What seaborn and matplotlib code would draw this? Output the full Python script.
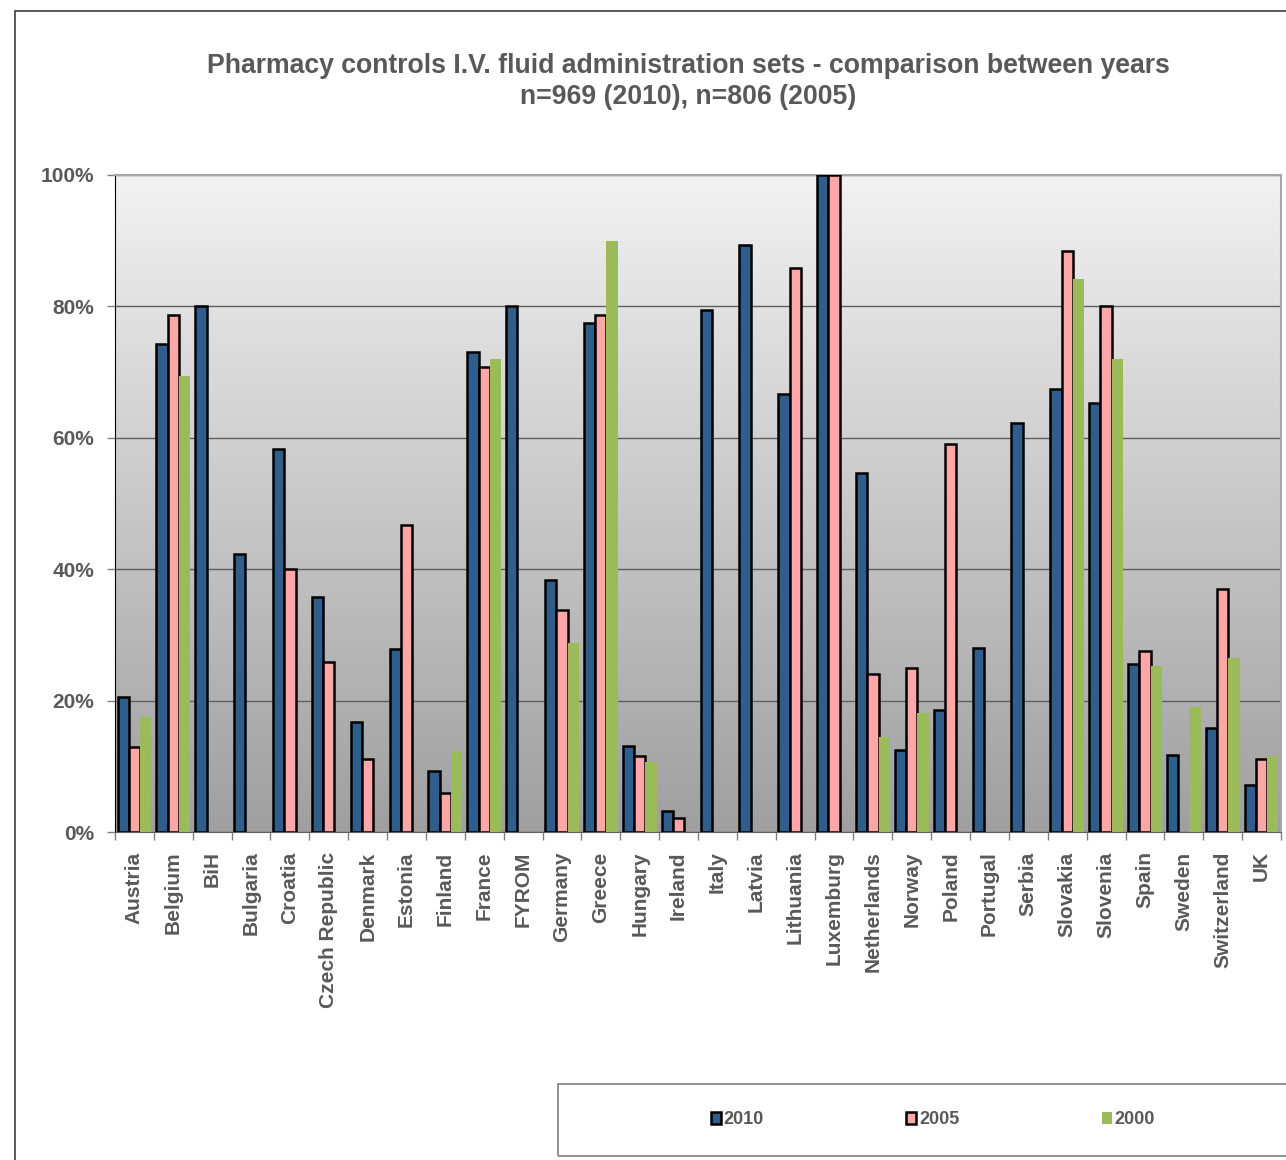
import numpy as np
import pandas as pd
import matplotlib
matplotlib.use('Agg')
import matplotlib.pyplot as plt
from matplotlib.colors import LinearSegmentedColormap
from matplotlib.patches import Patch, Rectangle
import seaborn as sns

# Data (percent, None = no bar)
countries = ['Austria', 'Belgium', 'BiH', 'Bulgaria', 'Croatia', 'Czech Republic',
             'Denmark', 'Estonia', 'Finland', 'France', 'FYROM', 'Germany', 'Greece',
             'Hungary', 'Ireland', 'Italy', 'Latvia', 'Lithuania', 'Luxemburg',
             'Netherlands', 'Norway', 'Poland', 'Portugal', 'Serbia', 'Slovakia',
             'Slovenia', 'Spain', 'Sweden', 'Switzerland', 'UK']
v2010 = [20.6, 74.3, 80.0, 42.3, 58.3, 35.7, 16.7, 27.8, 9.3, 73.1, 80.0, 38.4, 77.5,
         13.1, 3.2, 79.4, 89.3, 66.7, 100.0, 54.6, 12.5, 18.6, 28.0, 62.2, 67.4,
         65.3, 25.5, 11.7, 15.8, 7.2]
v2005 = [12.9, 78.7, None, None, 40.0, 25.8, 11.1, 46.8, 5.9, 70.8, None, 33.8, 78.7,
         11.5, 2.2, None, None, 85.8, 100.0, 24.0, 25.0, 59.1, None, None, 88.5,
         80.1, 27.5, None, 37.0, 11.1]
v2000 = [17.5, 69.4, None, None, None, None, None, None, 12.4, 72.0, None, 28.7, 90.0,
         10.6, None, None, None, None, None, 14.5, 18.1, None, None, None, 84.2,
         72.0, 25.3, 19.0, 26.5, 11.6]
years = ['2010', '2005', '2000']
colors = ['#2F5D8C', '#FFA6A6', '#9BBB59']

title1 = 'Pharmacy controls I.V. fluid administration sets - comparison between years'
title2 = 'n=969 (2010), n=806 (2005)'

rows = []
for yr, vals in zip(years, [v2010, v2005, v2000]):
    for c, v in zip(countries, vals):
        if v is not None:
            rows.append({'country': c, 'year': yr, 'value': v})
df = pd.DataFrame(rows)

plt.rcParams['font.family'] = ['Liberation Sans', 'DejaVu Sans']
txt_color = '#595959'

W, H = 1286, 1160
fig = plt.figure(figsize=(W / 100, H / 100), dpi=100)
ax = fig.add_axes([115 / W, 1 - 832 / H, (1281 - 115) / W, (832 - 175) / H])

sns.barplot(data=df, x='country', y='value', hue='year', order=countries,
            hue_order=years, palette=colors, saturation=1, width=0.87,
            edgecolor='black', linewidth=1.8, errorbar=None, legend=False,
            ax=ax, zorder=3)

# green bars have no outline
green = matplotlib.colors.to_rgba(colors[2])
for p in ax.patches:
    if np.allclose(p.get_facecolor(), green, atol=0.02):
        p.set_linewidth(0)
        p.set_edgecolor('none')

# gradient plot background
cmap = LinearSegmentedColormap.from_list('bg', ['#F2F2F2', '#9F9F9F'])
ax.imshow(np.linspace(0, 1, 256).reshape(-1, 1), extent=[-0.5, len(countries) - 0.5, 0, 100],
          aspect='auto', cmap=cmap, zorder=0)
ax.set_xlim(-0.5, len(countries) - 0.5)
ax.set_ylim(0, 100)

ax.set_axisbelow(True)
ax.yaxis.grid(True, color='#5E5E5E', linewidth=1.0)
ax.xaxis.grid(False)

ax.set_yticks([0, 20, 40, 60, 80, 100])
ax.set_yticklabels([f'{t}%' for t in [0, 20, 40, 60, 80, 100]],
                   fontsize=15, fontweight='bold', color=txt_color)
ax.tick_params(axis='y', length=6, width=1, color='#808080', pad=9)

ax.set_xticks(range(len(countries)))
ax.set_xticklabels(countries, rotation=90, fontsize=15, fontweight='bold',
                   color=txt_color, va='top', ha='center')
ax.set_xticks(np.arange(-0.5, len(countries)), minor=True)
ax.tick_params(axis='x', which='major', length=0, pad=14)
ax.tick_params(axis='x', which='minor', length=6, width=1, color='#808080')
ax.set_xlabel('')
ax.set_ylabel('')

ax.spines['left'].set_color('black')
ax.spines['bottom'].set_color('#606060')
for s in ['top', 'right']:
    ax.spines[s].set_color('#A6A6A6')
    ax.spines[s].set_linewidth(1.5)

fig.text(688 / W, 1 - 66 / H, title1, ha='center', va='center', fontsize=19.2,
         fontweight='bold', color=txt_color)
fig.text(688 / W, 1 - 97 / H, title2, ha='center', va='center', fontsize=19.2,
         fontweight='bold', color=txt_color)

# outer chart border and legend box
fig.patches.append(Rectangle((15 / W, -0.1), 1.2, 1 - 11 / H + 0.1, transform=fig.transFigure,
                             fill=False, edgecolor='#404040', linewidth=1.2))
fig.patches.append(Rectangle((558 / W, 1 - 1156 / H), 1.0, (1156 - 1084) / H,
                             transform=fig.transFigure, fill=False,
                             edgecolor='#7F7F7F', linewidth=1.2))

handles = [Patch(facecolor=colors[0], edgecolor='black', linewidth=1.8),
           Patch(facecolor=colors[1], edgecolor='black', linewidth=1.8),
           Patch(facecolor=colors[2], edgecolor='none')]
fig.legend(handles, years, ncol=3, loc='center', bbox_to_anchor=(933 / W, 1 - 1120 / H),
           frameon=False, handlelength=0.55, handleheight=0.6, handletextpad=0.15,
           columnspacing=7.9, labelcolor=txt_color,
           prop={'weight': 'bold', 'size': 13})

fig.savefig('out.png', dpi=100)
